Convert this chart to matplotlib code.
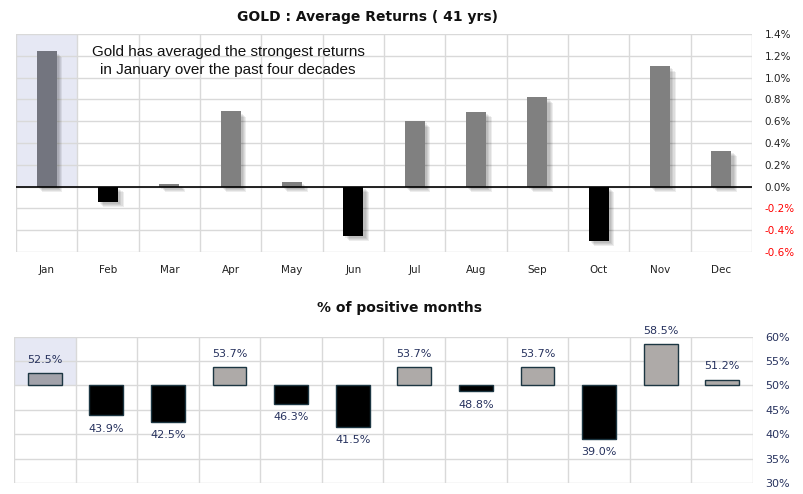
import matplotlib
matplotlib.use("Agg")
import matplotlib.pyplot as plt
import matplotlib.patheffects as pe
import numpy as np

months = ["Jan", "Feb", "Mar", "Apr", "May", "Jun", "Jul", "Aug", "Sep", "Oct", "Nov", "Dec"]
avg_returns = [1.24, -0.14, 0.025, 0.69, 0.045, -0.45, 0.60, 0.685, 0.82, -0.495, 1.105, 0.33]
pct_positive = [52.5, 43.9, 42.5, 53.7, 46.3, 41.5, 53.7, 48.8, 53.7, 39.0, 58.5, 51.2]
top_ticks = [-0.6, -0.4, -0.2, 0.0, 0.2, 0.4, 0.6, 0.8, 1.0, 1.2, 1.4]
bot_ticks = [30, 35, 40, 45, 50, 55, 60]

W, H = 804, 494
fig = plt.figure(figsize=(W / 100, H / 100), dpi=100)
grid_c = "#d9d9d9"
hl_c = "#e6e8f4"
navy = "#27325e"

x = np.arange(len(months))

# ---------- Top chart ----------
ax1 = fig.add_axes([16 / W, 1 - 252 / H, (752 - 16) / W, (252 - 34) / H])
ax1.set_xlim(-0.5, 11.5)
ax1.set_ylim(-0.6, 1.4)
ax1.fill_between([-0.5, 0.5], [0, 0], [1.4, 1.4], color=hl_c, lw=0, zorder=0.5)
for xv in np.arange(-0.5, 12, 1):
    ax1.axvline(xv, color=grid_c, lw=1, zorder=0.6)
for yv in top_ticks:
    ax1.axhline(yv, color=grid_c, lw=1, zorder=0.6)
colors = []
for i, v in enumerate(avg_returns):
    if i == 0:
        colors.append("#73757f")
    elif v >= 0:
        colors.append("#808080")
    else:
        colors.append("#000000")
bars = ax1.bar(x, avg_returns, width=0.33, color=colors, zorder=2)
shadow = [pe.SimplePatchShadow(offset=(d, -d), shadow_rgbFace="#000000", alpha=0.07) for d in (4, 3.2, 2.4, 1.6)]
for b in bars:
    b.set_path_effects(shadow + [pe.Normal()])
ax1.axhline(0, color="black", lw=1.2, zorder=3)
for s in ax1.spines.values():
    s.set_visible(False)
ax1.yaxis.tick_right()
ax1.set_yticks(top_ticks)
ax1.set_yticklabels([f"{t:.1f}%" for t in top_ticks])
for lbl, t in zip(ax1.get_yticklabels(), top_ticks):
    lbl.set_color("red" if t < 0 else "#222222")
ax1.tick_params(axis="y", length=0, pad=9, labelsize=7.5)
ax1.set_xticks(x)
ax1.set_xticklabels(months)
ax1.tick_params(axis="x", length=0, pad=9, labelsize=7.5, labelcolor="#222222")
ax1.text(228 / W, 1 - 61 / H, "Gold has averaged the strongest returns\nin January over the past four decades",
         transform=fig.transFigure, ha="center", va="center", fontsize=11,
         family="Liberation Sans", color="#111111", linespacing=1.3)
fig.text(368 / W, 1 - 17 / H, "GOLD : Average Returns ( 41 yrs)", ha="center", va="center",
         fontsize=10, fontweight="bold", color="#111111")

# ---------- Bottom chart ----------
ax2 = fig.add_axes([14 / W, 1 - 483 / H, (753 - 14) / W, (483 - 336.7) / H])
ax2.set_xlim(-0.5, 11.5)
ax2.set_ylim(30, 60)
ax2.fill_between([-0.5, 0.5], [50, 50], [60, 60], color=hl_c, lw=0, zorder=0.5)
for xv in np.arange(-0.5, 12, 1):
    ax2.axvline(xv, color=grid_c, lw=1, zorder=0.6)
for yv in bot_ticks:
    ax2.axhline(yv, color=grid_c, lw=1, zorder=0.6)
bcols = []
for i, v in enumerate(pct_positive):
    if i == 0:
        bcols.append("#a2a2aa")
    elif v >= 50:
        bcols.append("#aeaaa8")
    else:
        bcols.append("#000000")
heights = [v - 50 for v in pct_positive]
ax2.bar(x, heights, bottom=50, width=0.55, color=bcols, edgecolor="#1c3642", lw=1, zorder=2)
for xi, v in zip(x, pct_positive):
    if v >= 50:
        ax2.annotate(f"{v:.1f}%", (xi, v), xytext=(0, 6), textcoords="offset points",
                     ha="center", va="bottom", fontsize=8, color=navy)
    else:
        ax2.annotate(f"{v:.1f}%", (xi, v), xytext=(0, -6), textcoords="offset points",
                     ha="center", va="top", fontsize=8, color=navy)
for s in ax2.spines.values():
    s.set_visible(False)
ax2.yaxis.tick_right()
ax2.set_yticks(bot_ticks)
ax2.set_yticklabels([f"{t}%" for t in bot_ticks])
ax2.tick_params(axis="y", length=0, pad=9, labelsize=8, labelcolor=navy)
ax2.set_xticks([])
fig.text(400 / W, 1 - 308 / H, "% of positive months", ha="center", va="center",
         fontsize=10, fontweight="bold", color="#111111")

fig.savefig("out.png", dpi=100)
